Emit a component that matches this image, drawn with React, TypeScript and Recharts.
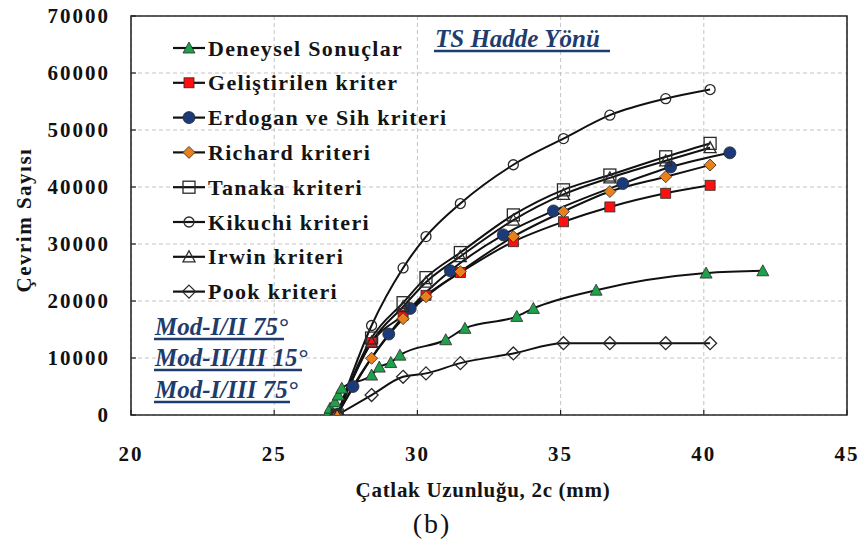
import React from 'react';
import { LineChart, Line, XAxis, YAxis, CartesianGrid, Legend, ReferenceArea } from 'recharts';

// crack length (mm) shared by most criteria
const crackX = [27.2, 28.4, 29.5, 30.3, 31.5, 33.35, 35.1, 36.72, 38.67, 40.22];

const deneyselX = [26.85, 26.95, 27.12, 27.24, 27.36, 28.4, 28.67, 29.07, 29.39, 30.99, 31.66, 33.47, 34.05, 36.24, 40.08, 42.06];
const deneyselY = [0, 1200, 2300, 3500, 4700, 7000, 8400, 9200, 10500, 13200, 15200, 17300, 18700, 21900, 24900, 25300];

const gelistirilenY = [0, 12700, 17500, 21000, 25000, 30400, 33900, 36500, 38900, 40300];

const erdoganX = [27.2, 27.75, 29.0, 29.75, 31.15, 33.0, 34.75, 37.17, 38.84, 40.91];
const erdoganY = [0, 5000, 14200, 18700, 25300, 31600, 35800, 40600, 43500, 46000];

const richardY = [0, 9950, 16900, 20750, 25150, 31300, 35700, 39200, 41800, 43850];
const tanakaY = [0, 13500, 19700, 24100, 28500, 35100, 39500, 42100, 45300, 47650];
const kikuchiY = [0, 15700, 25800, 31300, 37100, 43900, 48500, 52600, 55500, 57100];
const irwinY = [0, 12800, 19000, 23300, 27800, 34200, 38700, 41600, 44600, 46900];
const pookY = [0, 3500, 6700, 7300, 9100, 10800, 12600, 12600, 12600, 12600];

const xTicks = [20, 25, 30, 35, 40, 45];
const yTicks = [0, 10000, 20000, 30000, 40000, 50000, 60000, 70000];

const modLabels = ['Mod-I/II 75°', 'Mod-II/III 15°', 'Mod-I/III 75°'];

type Shape = 'triangle' | 'square' | 'circle' | 'diamond' | 'opensquare' | 'opencircle' | 'opentriangle' | 'opendiamond';

const toPoints = (xs: number[], ys: number[]) => xs.map((x, i) => ({ x, y: ys[i] }));

const series: { key: string; name: string; data: { x: number; y: number }[]; shape: Shape; fill: string }[] = [
  { key: 'deneysel', name: 'Deneysel Sonuçlar', data: toPoints(deneyselX, deneyselY), shape: 'triangle', fill: '#1fa04b' },
  { key: 'gelistirilen', name: 'Geliştirilen kriter', data: toPoints(crackX, gelistirilenY), shape: 'square', fill: '#ff1010' },
  { key: 'erdogan', name: 'Erdogan ve Sih kriteri', data: toPoints(erdoganX, erdoganY), shape: 'circle', fill: '#1b3a7a' },
  { key: 'richard', name: 'Richard kriteri', data: toPoints(crackX, richardY), shape: 'diamond', fill: '#e8801e' },
  { key: 'tanaka', name: 'Tanaka kriteri', data: toPoints(crackX, tanakaY), shape: 'opensquare', fill: 'none' },
  { key: 'kikuchi', name: 'Kikuchi kriteri', data: toPoints(crackX, kikuchiY), shape: 'opencircle', fill: 'none' },
  { key: 'irwin', name: 'Irwin kriteri', data: toPoints(crackX, irwinY), shape: 'opentriangle', fill: 'none' },
  { key: 'pook', name: 'Pook kriteri', data: toPoints(crackX, pookY), shape: 'opendiamond', fill: 'none' },
];

const FONT = '"Liberation Serif", "Times New Roman", serif';
const NAVY = '#1f3c6e';

function marker(shape: Shape, fill: string, cx: number, cy: number, key?: string) {
  const stroke = '#2a2a2a';
  if (cx == null || cy == null) return <g key={key} />;
  switch (shape) {
    case 'triangle':
      return <polygon key={key} points={`${cx},${cy - 6} ${cx - 6},${cy + 5} ${cx + 6},${cy + 5}`} fill={fill} stroke={stroke} strokeWidth={0.8} />;
    case 'opentriangle':
      return <polygon key={key} points={`${cx},${cy - 6} ${cx - 6},${cy + 5} ${cx + 6},${cy + 5}`} fill="none" stroke={stroke} strokeWidth={1.3} />;
    case 'square':
      return <rect key={key} x={cx - 5} y={cy - 5} width={10} height={10} fill={fill} stroke={stroke} strokeWidth={0.8} />;
    case 'opensquare':
      return <rect key={key} x={cx - 6} y={cy - 6} width={12} height={12} fill="none" stroke={stroke} strokeWidth={1.3} />;
    case 'circle':
      return <circle key={key} cx={cx} cy={cy} r={6} fill={fill} stroke={stroke} strokeWidth={0.8} />;
    case 'opencircle':
      return <circle key={key} cx={cx} cy={cy} r={5} fill="none" stroke={stroke} strokeWidth={1.3} />;
    case 'diamond':
      return <polygon key={key} points={`${cx},${cy - 6} ${cx + 6},${cy} ${cx},${cy + 6} ${cx - 6},${cy}`} fill={fill} stroke={stroke} strokeWidth={0.8} />;
    case 'opendiamond':
    default:
      return <polygon key={key} points={`${cx},${cy - 6.5} ${cx + 6.5},${cy} ${cx},${cy + 6.5} ${cx - 6.5},${cy}`} fill="none" stroke={stroke} strokeWidth={1.3} />;
  }
}

const XTick = (props: any) => {
  const { x, y, payload } = props;
  return (
    <g>
      <line x1={x} x2={x} y1={y} y2={y - 5} stroke="#222" strokeWidth={1.2} />
      <text x={x} y={y + 46} textAnchor="middle" fontFamily={FONT} fontWeight="bold" fontSize={21} letterSpacing={2} fill="#111">
        {payload.value}
      </text>
    </g>
  );
};

const YTick = (props: any) => {
  const { x, y, payload } = props;
  return (
    <g>
      <line x1={x} x2={x + 5} y1={y} y2={y} stroke="#222" strokeWidth={1.2} />
      <text x={x - 21} y={y + 7} textAnchor="end" fontFamily={FONT} fontWeight="bold" fontSize={21} letterSpacing={2} fill="#111">
        {payload.value}
      </text>
    </g>
  );
};

const renderLegend = () => (
  <svg width={300} height={290}>
    {series.map((s, i) => {
      const cy = 12 + i * 34.8;
      return (
        <g key={s.key}>
          <line x1={0} x2={32} y1={cy} y2={cy} stroke="#111" strokeWidth={2.2} />
          {marker(s.shape, s.fill, 16, cy)}
          <text x={35} y={cy + 7.5} fontFamily={FONT} fontWeight="bold" fontSize={22} letterSpacing={1.3} fill="#141414">
            {s.name}
          </text>
        </g>
      );
    })}
  </svg>
);

const App: React.FC = () => {
  return (
    <div style={{ position: 'absolute', left: 0, top: 0, width: 864, height: 547, background: '#fff' }}>
      <LineChart width={864} height={547} margin={{ top: 16, right: 17, bottom: 0, left: 0 }}>
        <CartesianGrid stroke="#c4c4c4" strokeDasharray="4 3" />
        <XAxis
          type="number"
          dataKey="x"
          domain={[20, 45]}
          ticks={xTicks}
          height={132}
          axisLine={false}
          tickLine={false}
          tickSize={0}
          tickMargin={0}
          tick={<XTick />}
          allowDataOverflow
        />
        <YAxis
          type="number"
          dataKey="y"
          domain={[0, 70000]}
          ticks={yTicks}
          width={131}
          axisLine={false}
          tickLine={false}
          tickSize={0}
          tickMargin={0}
          tick={<YTick />}
          allowDataOverflow
        />
        <ReferenceArea x1={20} x2={45} y1={0} y2={70000} fill="none" stroke="#2a2a2a" strokeWidth={1.6} ifOverflow="visible" />
        <Legend
          layout="vertical"
          align="center"
          verticalAlign="middle"
          content={renderLegend}
          wrapperStyle={{ position: 'absolute', left: 173, top: 36, width: 300, height: 290 }}
        />
        {series.map((s) => (
          <Line
            key={s.key}
            data={s.data}
            dataKey="y"
            name={s.name}
            type="monotone"
            stroke="#111"
            strokeWidth={2}
            isAnimationActive={false}
            activeDot={false}
            dot={(p: any) => marker(s.shape, s.fill, p.cx, p.cy, `${s.key}-${p.index}`)}
          />
        ))}
      </LineChart>
      <svg width={864} height={547} style={{ position: 'absolute', left: 0, top: 0, pointerEvents: 'none' }}>
        <text
          transform="translate(31,220) rotate(-90)"
          textAnchor="middle"
          fontFamily={FONT}
          fontWeight="bold"
          fontSize={21}
          letterSpacing={1.5}
          fill="#141414"
        >
          Çevrim Sayısı
        </text>
        <text x={483} y={497} textAnchor="middle" fontFamily={FONT} fontWeight="bold" fontSize={21} letterSpacing={0.7} fill="#141414">
          Çatlak Uzunluğu, 2c (mm)
        </text>
        <text x={432} y={533} textAnchor="middle" fontFamily={FONT} fontSize={28} letterSpacing={2} fill="#111">
          (b)
        </text>
        <text x={435} y={47} fontFamily={FONT} fontStyle="italic" fontWeight="bold" fontSize={25} fill={NAVY}>
          TS Hadde Yönü
        </text>
        <line x1={434} x2={610} y1={51} y2={51} stroke={NAVY} strokeWidth={2.5} />
        {modLabels.map((m, i) => {
          const base = [335, 366, 398][i];
          const w = [130, 148, 136][i];
          return (
            <g key={m}>
              <text x={155} y={base} fontFamily={FONT} fontStyle="italic" fontWeight="bold" fontSize={25} fill={NAVY}>
                {m}
              </text>
              <line x1={154} x2={154 + w} y1={base + 4} y2={base + 4} stroke={NAVY} strokeWidth={2.5} />
            </g>
          );
        })}
      </svg>
    </div>
  );
};

export default App;
